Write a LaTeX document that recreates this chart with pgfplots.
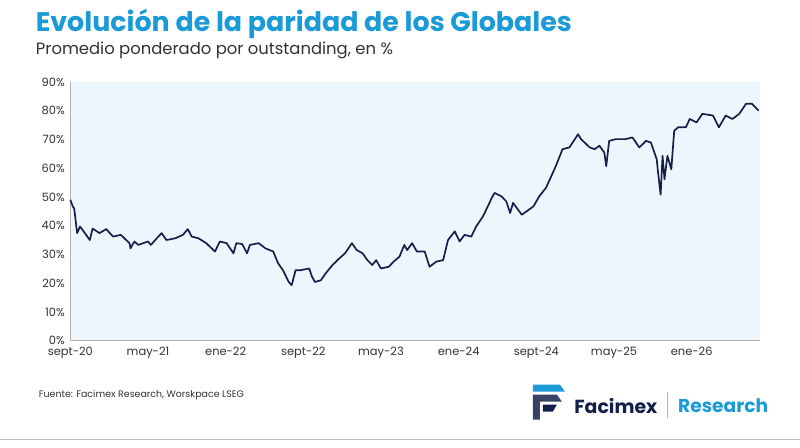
\documentclass[border=0pt]{standalone}
\usepackage{pgfplots}
\pgfplotsset{compat=1.18}
\usepackage{fontspec}
\setmainfont{Poppins}
\definecolor{fblue}{HTML}{1A9AD6}
\definecolor{navy}{HTML}{14204A}
\definecolor{txt}{HTML}{333333}
\definecolor{bgp}{HTML}{EEF6FD}
\begin{document}
\begin{tikzpicture}[x=1bp,y=1bp]
\fill[white] (0,0) rectangle (800,448);
\node[anchor=west,text=fblue,font=\fontsize{27}{30}\selectfont\bfseries] at (32,424) {Evolución de la paridad de los Globales};
\node[anchor=west,text=txt,font=\fontsize{16.5}{19}\selectfont] at (32,397) {Promedio ponderado por outstanding, en \%};
\begin{axis}[at={(70bp,107bp)},anchor=south west,scale only axis,
  width=690bp,height=259bp,
  xmin=0,xmax=71,ymin=0,ymax=90,
  axis background/.style={fill=bgp},
  axis line style={draw=gray!60},
  axis x line*=bottom, axis y line*=left,
  x axis line style={-},y axis line style={-},
  ytick={0,10,...,90},
  yticklabel={\pgfmathprintnumber{\tick}\%},
  xtick={0,8,16,24,32,40,48,56,64},
  xticklabels={sept-20,may-21,ene-22,sept-22,may-23,ene-24,sept-24,may-25,ene-26},
  tick style={draw=none},
  ticklabel style={text=txt,font=\fontsize{11.5}{13}\selectfont},
  xticklabel style={yshift=-3bp},
  yticklabel style={xshift=-2bp},
  /pgf/number format/assume math mode=true,
  clip=false]
\addplot[navy,line width=1.7pt,line join=round] coordinates {
(0,49)(0.25,46.7)(0.4,46)(0.7,37.4)(1,39.7)(1.5,37.4)(2,35)(2.3,39)(3,37.4)(3.7,38.8)
(4.4,36.2)(5.2,36.8)(6.1,33.9)(6.2,32.1)(6.6,34.5)(7,33.3)(8,34.5)(8.3,33.3)(8.9,35.6)
(9.4,37.4)(9.9,35)(10.8,35.6)(11.6,36.8)(12.1,38.8)(12.5,36.2)(13.2,35.6)(14,33.9)
(14.9,31)(15.4,34.5)(16.1,33.9)(16.8,30.4)(17.1,33.9)(17.7,33.6)(18.2,30.4)(18.5,33.3)
(19.4,33.9)(20.1,32.1)(20.9,31)(21.4,26.9)(21.9,24.5)(22.5,20.4)(22.8,19.3)(23.2,24.5)
(23.7,24.5)(24.6,25.1)(24.9,22.2)(25.2,20.4)(25.8,21)(26.3,23.4)(27,26.3)(27.7,28.6)
(28.3,30.4)(29,33.9)(29.5,31.5)(30.1,30.4)(30.6,28)(31.1,26.3)(31.5,28)(32,25.1)
(32.8,25.7)(33.3,27.5)(33.9,29.2)(34.4,33.3)(34.7,31.5)(35.2,33.9)(35.7,31)
(36.5,31)(37,25.7)(37.7,27.5)(38.4,28)(38.9,35)(39.6,38)(40.1,34.5)(40.6,36.8)
(41.3,36.2)(41.8,39.7)(42.5,43.2)(43,46.7)(43.4,49.6)(43.7,51.4)(44.4,50.2)(44.9,48.5)
(45.3,44.4)(45.6,47.9)(46.5,43.8)(47,45)(47.7,46.7)(48.3,50.2)(49,53.2)(49.7,58.4)
(50,60.7)(50.7,66.6)(51.4,67.2)(52.3,71.8)(52.6,70.1)(53.5,67.2)(54,66.6)(54.5,67.8)
(55,65.4)(55.2,60.7)(55.5,69.5)(56.2,70.1)(57.2,70.1)(57.9,70.7)(58.6,67.2)(59.3,69.5)
(59.8,68.9)(60.4,63.1)(60.5,59.6)(60.8,50.8)(61,64.3)(61.2,56.1)(61.5,64.3)(61.9,59.6)
(62.2,73)(62.6,74.2)(63.4,74.2)(63.8,77.1)(64.5,75.9)(65.1,78.9)(66.2,78.3)(66.8,74.2)
(67.5,78.3)(68.2,77.1)(68.9,78.9)(69.6,82.4)(70.2,82.4)(70.9,80)
};
\end{axis}
\node[anchor=west,text=txt,font=\fontsize{9.5}{11}\selectfont] at (35,52) {Fuente: Facimex Research, Worskpace LSEG};
% logo
\fill[fblue] (533,63) -- (560,63) -- (565,56) -- (533,56) -- cycle;
\fill[navy!85] (533,53) -- (557,53) -- (562,46) -- (540,46) -- (540,28) -- (533,28) -- cycle;
\fill[navy] (543,43) -- (557,43) -- (553,36) -- (543,36) -- cycle;
\node[anchor=west,text=navy,font=\fontsize{19}{22}\selectfont\bfseries] at (571,42) {Facimex};
\draw[gray!60,line width=0.8pt] (668,30) -- (668,56);
\node[anchor=west,text=fblue,font=\fontsize{18.7}{22}\selectfont\bfseries] at (675,42) {Research};
\draw[gray!50,line width=0.8pt] (0,8) -- (800,8);
\end{tikzpicture}
\end{document}
